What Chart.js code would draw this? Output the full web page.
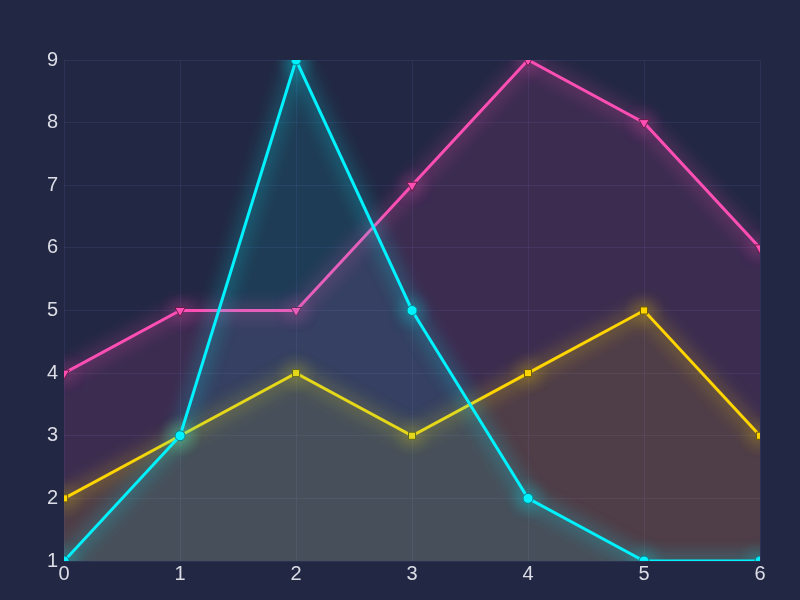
<!DOCTYPE html>
<html>
<head>
<meta charset="utf-8">
<script src="https://cdn.jsdelivr.net/npm/chart.js@4"></script>
<style>
  html, body { margin: 0; padding: 0; background: #222843; }
  #wrap { width: 800px; height: 600px; }
</style>
</head>
<body>
<div id="wrap"><canvas id="mychart"></canvas></div>
<script>
const labels = ['0', '1', '2', '3', '4', '5', '6'];
const cyanValues = [1, 3, 9, 5, 2, 1, 1];
const yellowValues = [2, 3, 4, 3, 4, 5, 3];
const pinkValues = [4, 5, 5, 7, 9, 8, 6];

// glow on lines and points only (fill is drawn by the filler before this runs)
const glow = {
    id: 'glow',
    beforeDatasetDraw(chart, args) {
        const ctx = chart.ctx;
        ctx.save();
        ctx.shadowColor = args.meta.dataset.options.borderColor;
        ctx.shadowBlur = 18;
    },
    afterDatasetDraw(chart) {
        chart.ctx.restore();
    }
};

const ctx = document.getElementById('mychart').getContext('2d');
const chart = new Chart(ctx, {
    type: 'line',
    data: {
        labels: labels,
        datasets: [{
            data: cyanValues,
            borderColor: '#00f2ff',
            backgroundColor: 'rgba(0, 242, 255, 0.1)',
            pointBackgroundColor: '#00f2ff',
            pointBorderColor: '#0b7f88',
            pointStyle: 'circle',
            pointRadius: 5,
            fill: 'origin',
            clip: 0
        }, {
            data: yellowValues,
            borderColor: '#ffd500',
            backgroundColor: 'rgba(255, 213, 0, 0.1)',
            pointBackgroundColor: '#ffd500',
            pointBorderColor: '#6b5a00',
            pointStyle: 'rect',
            pointRadius: 5,
            fill: 'origin',
            clip: 0
        }, {
            data: pinkValues,
            borderColor: '#ff4fb4',
            backgroundColor: 'rgba(255, 79, 180, 0.12)',
            pointBackgroundColor: '#ff4fb4',
            pointBorderColor: '#6a1a48',
            pointStyle: 'triangle',
            pointRotation: 180,
            pointRadius: 6,
            fill: 'origin',
            clip: 0
        }]
    },
    options: {
        responsive: true,
        maintainAspectRatio: false,
        animation: false,
        layout: { padding: { top: 60, right: 40, bottom: 13, left: 41 } },
        elements: {
            line: { borderWidth: 3, tension: 0 },
            point: { borderWidth: 1, hoverRadius: 5 }
        },
        plugins: {
            legend: { display: false },
            tooltip: { enabled: false }
        },
        scales: {
            x: {
                offset: false,
                grid: { color: 'rgba(70, 85, 140, 0.25)', drawTicks: false },
                border: { display: false },
                ticks: { color: '#dcdde6', font: { size: 20 }, padding: 1 }
            },
            y: {
                min: 1,
                max: 9,
                grid: { color: 'rgba(70, 85, 140, 0.25)', drawTicks: false },
                border: { display: false },
                ticks: { color: '#dcdde6', font: { size: 20 }, padding: 6, stepSize: 1 }
            }
        }
    },
    plugins: [glow]
});
</script>
</body>
</html>
